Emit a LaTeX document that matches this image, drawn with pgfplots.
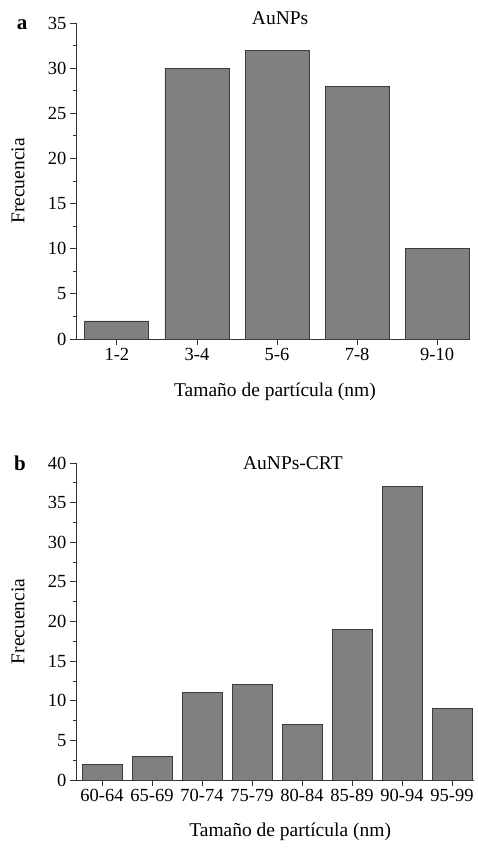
\documentclass[border=0pt]{standalone}
\usepackage{fontspec}
\setmainfont{Liberation Serif}
\usepackage{pgfplots}
\pgfplotsset{compat=1.18}

\definecolor{barfill}{RGB}{128,128,128}
\definecolor{baredge}{RGB}{60,60,60}

\pgfplotsset{
  histo/.style={
    scale only axis,
    anchor=south west,
    axis x line=bottom,
    axis y line=left,
    axis line style={-, line width=0.9pt, black!80},
    tick align=outside,
    major tick length=6pt,
    minor tick length=3.5pt,
    tick style={line width=0.8pt, black!80},
    minor y tick num=1,
    ymin=0,
    xtick=data,
    ybar,
    clip=false,
    /pgf/number format/assume math mode=true,
    tick label style={font=\fontsize{18.5}{20}\selectfont},
    label style={font=\fontsize{19.5}{22}\selectfont},
  },
}

\begin{document}
\begin{tikzpicture}
\useasboundingbox (0,0) rectangle (477pt,850pt);

% panel a
\begin{axis}[histo,
    at={(76pt,511pt)},
    width=394pt, height=316pt,
    xmin=-0.51, xmax=4.41,
    ymax=35, ytick={0,5,...,35},
    bar width=64pt,
    xticklabels={1-2,3-4,5-6,7-8,9-10},
    xlabel={Tamaño de partícula (nm)},
    ylabel={Frecuencia},
    xlabel style={at={(axis description cs:0.505,-0.168)}, anchor=center},
    ylabel style={at={(axis description cs:-0.147,0.5)}, anchor=center},
]
\addplot[fill=barfill, draw=baredge, line width=0.8pt] coordinates {
  (0,2) (1,30) (2,32) (3,28) (4,10)
};
\node[anchor=base, font=\fontsize{19.5}{22}\selectfont]
  at (rel axis cs:0.518,1) [yshift=-2pt] {AuNPs};
\end{axis}
\node[font=\fontsize{21}{23}\selectfont\bfseries] at (22pt,825pt) {a};

% panel b
\begin{axis}[histo,
    at={(76pt,70pt)},
    width=398pt, height=317pt,
    xmin=-0.52, xmax=7.44,
    ymax=40, ytick={0,5,...,40},
    bar width=40pt,
    xticklabels={60-64,65-69,70-74,75-79,80-84,85-89,90-94,95-99},
    xlabel={Tamaño de partícula (nm)},
    ylabel={Frecuencia},
    xlabel style={at={(axis description cs:0.538,-0.164)}, anchor=center},
    ylabel style={at={(axis description cs:-0.146,0.5)}, anchor=center},
]
\addplot[fill=barfill, draw=baredge, line width=0.8pt] coordinates {
  (0,2) (1,3) (2,11) (3,12) (4,7) (5,19) (6,37) (7,9)
};
\node[anchor=base, font=\fontsize{19.5}{22}\selectfont]
  at (rel axis cs:0.545,1) [yshift=-7pt] {AuNPs-CRT};
\end{axis}
\node[font=\fontsize{21}{23}\selectfont\bfseries] at (20pt,387pt) {b};
\end{tikzpicture}
\end{document}
